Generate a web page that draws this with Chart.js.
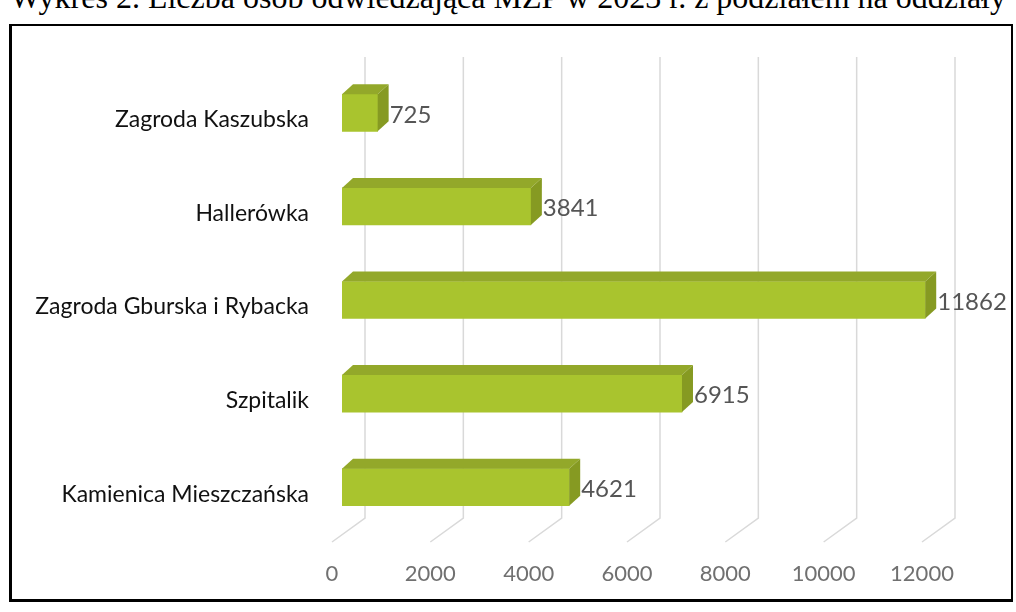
<!DOCTYPE html>
<html>
<head>
<meta charset="utf-8">
<script src="https://cdn.jsdelivr.net/npm/chart.js@4"></script>
<style>
  html, body { margin: 0; padding: 0; background: #fff; }
  body { width: 1016px; height: 612px; position: relative; overflow: hidden; }
  #title {
    position: absolute; right: 10px; top: -19px;
    font-family: "Liberation Serif", serif; font-size: 32px; line-height: 1;
    color: #000; white-space: nowrap;
  }
  #frame {
    position: absolute; left: 9px; top: 24px; width: 999px; height: 573px;
    border: 2px solid #000; border-left-width: 3px; border-bottom-width: 3px;
  }
  #wrap { position: absolute; left: 0; top: 0; width: 1016px; height: 612px; }
</style>
</head>
<body>
<div id="title">Wykres 2. Liczba osób odwiedzająca MZP w 2023 r. z podziałem na oddziały</div>
<div id="frame"></div>
<div id="wrap"><canvas id="visitorsChart"></canvas></div>
<script>
const branches = [
  "Zagroda Kaszubska",
  "Hallerówka",
  "Zagroda Gburska i Rybacka",
  "Szpitalik",
  "Kamienica Mieszczańska",
];
const visitors = [725, 3841, 11862, 6915, 4621];
const xTicks = [0, 2000, 4000, 6000, 8000, 10000, 12000];

// depth of the fake 3D look
const DEPTH_X = 11;
const DEPTH_Y = 10;

// back wall grid + floor lines
const wallGrid = {
  id: "wallGrid",
  beforeDatasetsDraw(chart) {
    const { ctx, scales } = chart;
    ctx.save();
    ctx.strokeStyle = "#d9d9d9";
    ctx.lineWidth = 1.5;
    xTicks.forEach((v) => {
      const px = scales.x.getPixelForValue(v);
      ctx.beginPath();
      ctx.moveTo(px + 23, 57);
      ctx.lineTo(px + 23, 518);
      ctx.lineTo(px - 10, 542);
      ctx.stroke();
    });
    ctx.restore();
  },
};

// top and side faces + value labels
const bars3d = {
  id: "bars3d",
  afterDatasetsDraw(chart) {
    const { ctx } = chart;
    const meta = chart.getDatasetMeta(0);
    ctx.save();
    meta.data.forEach((bar, i) => {
      const { x, y, base, height } = bar.getProps(["x", "y", "base", "height"], true);
      const top = y - height / 2;
      const bottom = y + height / 2;
      ctx.fillStyle = "#93a82a";
      ctx.beginPath();
      ctx.moveTo(base, top);
      ctx.lineTo(x, top);
      ctx.lineTo(x + DEPTH_X, top - DEPTH_Y);
      ctx.lineTo(base + DEPTH_X, top - DEPTH_Y);
      ctx.closePath();
      ctx.fill();
      ctx.fillStyle = "#869a22";
      ctx.beginPath();
      ctx.moveTo(x, top);
      ctx.lineTo(x + DEPTH_X, top - DEPTH_Y);
      ctx.lineTo(x + DEPTH_X, bottom - DEPTH_Y);
      ctx.lineTo(x, bottom);
      ctx.closePath();
      ctx.fill();

      ctx.fillStyle = "#555";
      ctx.font = "24px Lato";
      ctx.textAlign = "left";
      ctx.textBaseline = "middle";
      ctx.fillText(String(visitors[i]), x + DEPTH_X + 1, y + 2);
    });
    ctx.restore();
  },
};

const ctxVisitors = document.getElementById("visitorsChart");
new Chart(ctxVisitors, {
  type: "bar",
  data: {
    labels: branches,
    datasets: [
      {
        label: "Liczba osób",
        data: visitors,
        backgroundColor: "#a9c42e",
        borderWidth: 0,
        barThickness: 37,
      },
    ],
  },
  options: {
    indexAxis: "y",
    responsive: true,
    maintainAspectRatio: false,
    animation: false,
    devicePixelRatio: 1,
    layout: {
      padding: { top: 66, bottom: 23, left: 0, right: 84 },
    },
    plugins: {
      legend: { display: false },
      tooltip: { enabled: false },
    },
    scales: {
      x: {
        min: 0,
        max: 12000,
        afterBuildTicks(scale) {
          scale.ticks = xTicks.map((v) => ({ value: v }));
        },
        afterFit(scale) {
          scale.height = 55;
        },
        grid: { display: false, drawTicks: false },
        border: { display: false },
        ticks: {
          color: "#707070",
          font: { family: "Lato", size: 22 },
          padding: 27,
          labelOffset: -10,
          maxRotation: 0,
          callback: (v) => String(v),
        },
      },
      y: {
        afterFit(scale) {
          scale.width = 342;
        },
        grid: { display: false, drawTicks: false },
        border: { display: false },
        ticks: {
          color: "#111",
          font: { family: "Lato", size: 23 },
          padding: 33,
          labelOffset: 7,
        },
      },
    },
  },
  plugins: [wallGrid, bars3d],
});
</script>
</body>
</html>
